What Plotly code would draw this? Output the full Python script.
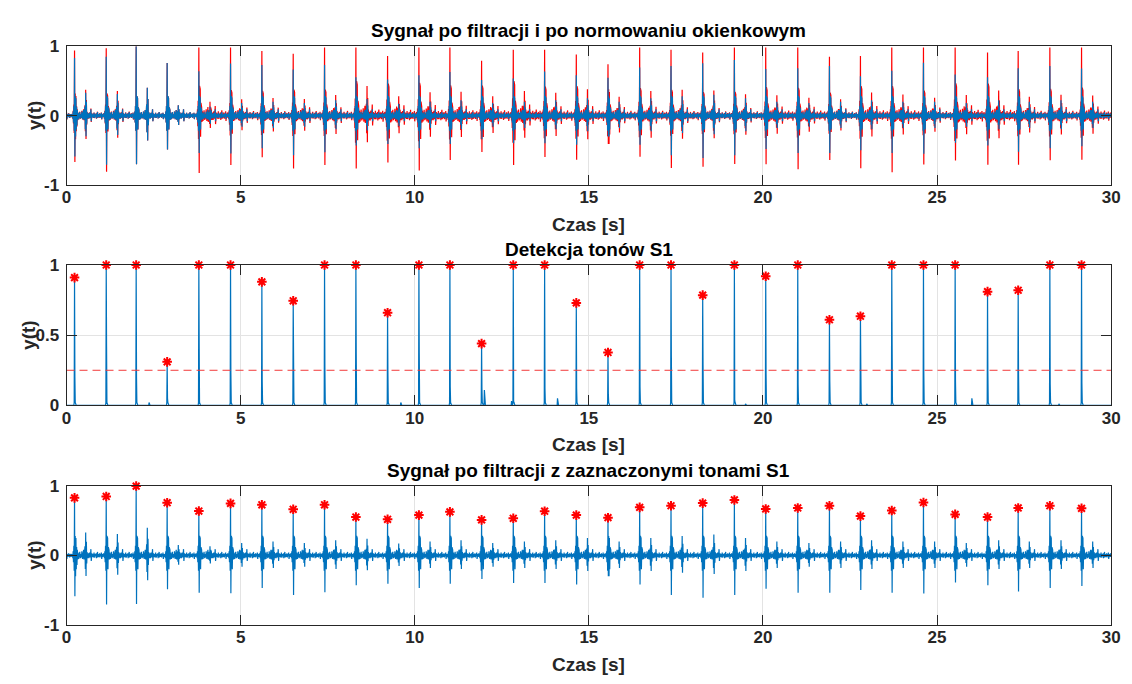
import numpy as np
import plotly.graph_objects as go

FS = 100          # samples per second of the plotted record
T_END = 30.0      # record length [s]

# --- S1 tone instants [s] ---
s1_times = [0.23, 1.14, 2.00, 2.89, 3.80, 4.71, 5.61, 6.51, 7.41, 8.31, 9.22,
            10.12, 11.01, 11.92, 12.83, 13.73, 14.64, 15.55, 16.46, 17.36, 18.27,
            19.18, 20.08, 21.00, 21.91, 22.80, 23.70, 24.61, 25.52, 26.45, 27.33,
            28.24, 29.15]

# filtered signal: S1 maximum and the following minimum
s1_peaks = [0.83, 0.85, 1.00, 0.76, 0.64, 0.75, 0.73, 0.665, 0.73, 0.553, 0.521,
            0.581, 0.628, 0.512, 0.535, 0.637, 0.581, 0.544, 0.693, 0.716, 0.754,
            0.80, 0.670, 0.684, 0.716, 0.567, 0.647, 0.763, 0.591, 0.553, 0.684,
            0.716, 0.679]
s1_troughs = [-0.59, -0.71, -0.70, -0.49, -0.54, -0.545, -0.47, -0.57, -0.53, -0.43, -0.41,
              -0.47, -0.41, -0.34, -0.40, -0.40, -0.42, -0.30, -0.42, -0.57, -0.61,
              -0.57, -0.48, -0.54, -0.54, -0.50, -0.54, -0.55, -0.39, -0.43, -0.52,
              -0.47, -0.44]
# S2 tone amplitude of each cycle
s2_peaks = [0.33, 0.31, 0.40, 0.15, 0.13, 0.18, 0.20, 0.18, 0.22, 0.24, 0.17,
            0.20, 0.22, 0.18, 0.20, 0.22, 0.25, 0.20, 0.25, 0.28, 0.30,
            0.25, 0.20, 0.18, 0.20, 0.22, 0.20, 0.20, 0.18, 0.22, 0.20,
            0.22, 0.20]

# window-normalised signal: S1 maximum of each cycle
norm_peaks = [0.94, 0.97, 1.00, 0.76, 0.98, 0.98, 0.93, 0.89, 0.98, 0.98, 0.86,
              0.98, 0.98, 0.79, 0.95, 0.95, 0.88, 0.74, 0.98, 0.95, 0.91,
              0.98, 0.98, 0.98, 0.85, 0.86, 0.98, 0.98, 0.98, 0.91, 0.93,
              0.98, 0.98]

# detection envelope: main S1 value and the shoulder just after it
env_peaks = [0.91, 1.0, 1.0, 0.31, 1.0, 1.0, 0.88, 0.745, 1.0, 1.0, 0.66,
             1.0, 1.0, 0.44, 1.0, 1.0, 0.73, 0.377, 1.0, 1.0, 0.785,
             1.0, 0.92, 1.0, 0.61, 0.635, 1.0, 1.0, 1.0, 0.81, 0.82,
             1.0, 1.0]
env_shoulder = [0.20, 0.42, 0.20, 0.05, 0.41, 0.23, 0.17, 0.36, 0.27, 0.36, 0.24,
                0.37, 0.13, 0.12, 0.03, 0.12, 0.12, 0.08, 0.13, 0.35, 0.29,
                0.04, 0.22, 0.15, 0.17, 0.30, 0.43, 0.24, 0.17, 0.24, 0.24,
                0.15, 0.16]
# small envelope bumps away from S1
env_minor_times = [2.37, 6.30, 9.60, 12.00, 12.78, 14.10, 19.50, 22.98, 26.00, 28.50]
env_minor_vals = [0.02, 0.005, 0.02, 0.11, 0.03, 0.05, 0.01, 0.01, 0.05, 0.01]

threshold = 0.25

# one heart cycle of the filtered record, 10 ms steps, starting 60 ms before S1;
# the S1 maximum/minimum slots (6, 7) and the S2 slots are filled per cycle
CYCLE_PRE = 6
cycle_shape = [
    0.02, -0.04, 0.06, -0.10, 0.14, -0.22, 0.0, 0.0, 0.28, -0.30,
    0.25, -0.20, 0.12, -0.14, 0.08, -0.06,
    0.04, 0.01, -0.05, -0.02, 0.03, 0.05, -0.01, -0.04, 0.02, 0.00,
    -0.03, 0.06, 0.02, -0.05, -0.01, 0.03, 0.08, -0.06, -0.02, 0.03,
    0.0, 0.0, 0.0, 0.0, 0.0, 0.0,
    0.05, -0.04, 0.01, 0.03, -0.02, -0.04, 0.02, 0.04, 0.00, -0.03,
    0.02, 0.09, -0.08, 0.01, 0.03, -0.02, 0.00, 0.02, -0.03, 0.01,
    0.04, -0.02, -0.03, 0.02, 0.01, -0.01, 0.03, -0.04, 0.00, 0.02,
    0.05, -0.03, -0.01, 0.02, -0.02, 0.01, 0.03, -0.03, 0.00, 0.02,
    -0.01, 0.04, -0.05, 0.01, 0.02, -0.02, 0.00, 0.03, -0.02, 0.01,
    -0.03, 0.02, 0.01, -0.02, 0.02, -0.01, 0.01, -0.02,
]
S2_START = 36
s2_shape = [0.4, -0.6, 1.0, -0.9, 0.6, -0.35]

# ---------------------------------------------------------------- signals
n = int(round(T_END * FS)) + 1
t = np.arange(n) / FS
blue = np.zeros(n)
red = np.zeros(n)
env = np.zeros(n)

starts = [int(round(ts * FS)) - CYCLE_PRE for ts in s1_times]
L = len(cycle_shape)

# tail of a cycle before the first S1
head = np.array(cycle_shape[L - starts[0]:])
blue[:starts[0]] = head
red[:starts[0]] = head * max(1.0, norm_peaks[0] / s1_peaks[0])

for k, i0 in enumerate(starts):
    cyc = np.array(cycle_shape, dtype=float)
    cyc[CYCLE_PRE] = s1_peaks[k]
    cyc[CYCLE_PRE + 1] = s1_troughs[k]
    cyc[S2_START:S2_START + len(s2_shape)] += np.array(s2_shape) * s2_peaks[k]
    i1 = starts[k + 1] if k + 1 < len(starts) else n
    seg = cyc[:i1 - i0]
    blue[i0:i0 + len(seg)] = seg
    gain = max(1.0, norm_peaks[k] / s1_peaks[k])
    red[i0:i0 + len(seg)] = seg * gain

    j = i0 + CYCLE_PRE
    env[j - 1] = 0.02
    env[j] = env_peaks[k]
    env[j + 1] = env_shoulder[k]
    env[j + 2] = 0.02

for tm, v in zip(env_minor_times, env_minor_vals):
    env[int(round(tm * FS))] = v

# ---------------------------------------------------------------- figure
BLUE = "#0072BD"
RED = "#FF0000"
W, H = 1132, 684
x_dom = [62.3 / W, 1120.0 / W]
# panel (top, bottom) in pixels
panels_px = [(38.3, 181.0), (263.3, 407.7), (490.7, 633.3)]
y_doms = [[1 - b / H, 1 - tp / H] for tp, b in panels_px]
ylabel_x_px = [30, 23, 30]

titles = ["Sygnał po filtracji i po normowaniu okienkowym",
          "Detekcja tonów S1",
          "Sygnał po filtracji z zaznaczonymi tonami S1"]
x_label = "Czas [s]"
y_label = "y(t)"

fig = go.Figure()

star = dict(symbol="asterisk-open", size=8, color=RED, line=dict(color=RED, width=2))

# panel 1
fig.add_trace(go.Scatter(x=t, y=red, mode="lines", line=dict(color=RED, width=1.2),
                         xaxis="x", yaxis="y", hoverinfo="skip"))
fig.add_trace(go.Scatter(x=t, y=blue, mode="lines", line=dict(color=BLUE, width=1.2),
                         xaxis="x", yaxis="y", hoverinfo="skip"))
# panel 2
fig.add_trace(go.Scatter(x=t, y=env, mode="lines", line=dict(color=BLUE, width=1.2),
                         xaxis="x2", yaxis="y2", hoverinfo="skip"))
fig.add_trace(go.Scatter(x=[0, T_END], y=[threshold, threshold], mode="lines",
                         line=dict(color="#F23A3A", width=1, dash="8px,5px"),
                         xaxis="x2", yaxis="y2"))
fig.add_trace(go.Scatter(x=s1_times, y=env_peaks, mode="markers", cliponaxis=False,
                         marker=star, xaxis="x2", yaxis="y2"))
# panel 3
fig.add_trace(go.Scatter(x=t, y=blue, mode="lines", line=dict(color=BLUE, width=1.2),
                         xaxis="x3", yaxis="y3", hoverinfo="skip"))
fig.add_trace(go.Scatter(x=s1_times, y=s1_peaks, mode="markers", cliponaxis=False,
                         marker=star, xaxis="x3", yaxis="y3"))

tick_font = dict(family="Arial", size=17, color="#262626", weight="bold")
axis_common = dict(showline=True, linecolor="#262626", linewidth=1, mirror="ticks",
                   ticks="inside", ticklen=10, tickwidth=1, tickcolor="#262626",
                   showgrid=True, gridcolor="#E3E3E3", gridwidth=1, zeroline=False,
                   tickfont=tick_font, fixedrange=True)

x_ticks = [0, 5, 10, 15, 20, 25, 30]
layout = dict(width=W, height=H, margin=dict(l=0, r=0, t=0, b=0),
              paper_bgcolor="white", plot_bgcolor="white", showlegend=False)
for i in range(3):
    sfx = "" if i == 0 else str(i + 1)
    layout["xaxis" + sfx] = dict(axis_common, domain=x_dom, range=[0, T_END],
                                 tickvals=x_ticks, ticktext=[str(v) for v in x_ticks],
                                 anchor="y" + sfx, ticklabelstandoff=-3)
    if i == 1:
        yt = dict(range=[0, 1], tickvals=[0, 0.5, 1], ticktext=["0", "0.5", "1"])
    else:
        yt = dict(range=[-1, 1], tickvals=[-1, 0, 1], ticktext=["-1", "0", "1"])
    layout["yaxis" + sfx] = dict(axis_common, domain=y_doms[i], anchor="x" + sfx,
                                 ticklabelstandoff=3, **yt)

annotations = []
xc = (x_dom[0] + x_dom[1]) / 2
label_font = dict(family="Arial", size=19, color="#262626", weight="bold")
for i in range(3):
    y0, y1 = y_doms[i]
    annotations.append(dict(text=titles[i], x=xc, y=y1, xref="paper", yref="paper",
                            xanchor="center", yanchor="bottom", yshift=3, showarrow=False,
                            font=dict(family="Arial", size=19, color="black", weight="bold")))
    annotations.append(dict(text=x_label, x=xc, y=y0, xref="paper", yref="paper",
                            xanchor="center", yanchor="top", yshift=-27, showarrow=False,
                            font=label_font))
    annotations.append(dict(text=y_label, x=ylabel_x_px[i] / W, y=(y0 + y1) / 2,
                            xref="paper", yref="paper", xanchor="center", yanchor="middle",
                            textangle=-90, showarrow=False, font=label_font))
layout["annotations"] = annotations

fig.update_layout(**layout)
fig.write_html("out.html")
